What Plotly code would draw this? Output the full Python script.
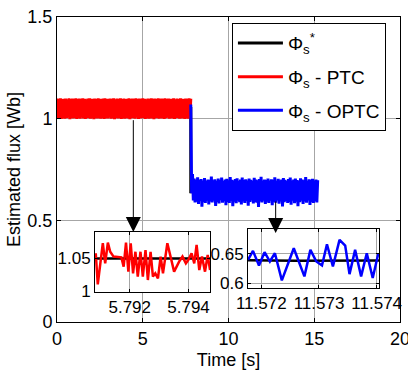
import plotly.graph_objects as go

# ---------------- data ----------------
ref_time = [0.0, 7.8, 7.8, 15.2]
ref_flux = [1.05, 1.05, 0.64, 0.64]

ptc_t0, ptc_dt = 0.0, 0.05
ptc_flux = [
 1.099, 1.001, 1.097, 1.003, 1.100, 0.999, 1.096, 1.004, 1.098, 1.000,
 1.099, 1.002, 1.095, 1.005, 1.100, 0.998, 1.097, 1.003, 1.099, 1.001,
 1.098, 1.004, 1.100, 0.999, 1.096, 1.002, 1.099, 1.000, 1.097, 1.005,
 1.100, 1.001, 1.098, 0.999, 1.095, 1.003, 1.099, 1.002, 1.100, 1.000,
 1.097, 1.004, 1.098, 0.998, 1.099, 1.003, 1.096, 1.001, 1.100, 1.002,
 1.098, 1.000, 1.097, 1.004, 1.099, 0.999, 1.100, 1.003, 1.096, 1.001,
 1.098, 1.005, 1.099, 1.000, 1.097, 1.002, 1.100, 0.998, 1.095, 1.004,
 1.099, 1.001, 1.098, 1.003, 1.100, 0.999, 1.097, 1.002, 1.099, 1.000,
 1.096, 1.004, 1.098, 1.001, 1.100, 0.998, 1.097, 1.003, 1.099, 1.002,
 1.098, 1.000, 1.100, 1.005, 1.096, 0.999, 1.099, 1.001, 1.097, 1.003,
 1.100, 1.002, 1.098, 0.999, 1.095, 1.004, 1.099, 1.000, 1.097, 1.001,
 1.100, 1.003, 1.098, 0.998, 1.099, 1.002, 1.096, 1.004, 1.100, 1.000,
 1.097, 1.001, 1.099, 1.003, 1.098, 0.999, 1.100, 1.002, 1.096, 1.005,
 1.099, 1.000, 1.097, 1.003, 1.098, 1.001, 1.100, 0.999, 1.095, 1.002,
 1.099, 1.004, 1.097, 1.000, 1.100, 1.001, 1.098, 1.003, 1.096, 0.999,
 1.099, 1.002, 1.097, 1.000, 1.100, 1.003, 1.098,
]

optc_t0, optc_dt = 7.8, 0.05
optc_flux = [
 1.070, 0.633, 0.728, 0.598, 0.705, 0.588, 0.699, 0.592, 0.712, 0.580,
 0.698, 0.595, 0.703, 0.567, 0.696, 0.590, 0.708, 0.585, 0.694, 0.597,
 0.701, 0.578, 0.699, 0.593, 0.715, 0.588, 0.697, 0.596, 0.702, 0.571,
 0.695, 0.590, 0.706, 0.583, 0.698, 0.599, 0.710, 0.587, 0.693, 0.594,
 0.700, 0.575, 0.704, 0.591, 0.697, 0.586, 0.713, 0.596, 0.699, 0.569,
 0.696, 0.592, 0.703, 0.584, 0.707, 0.597, 0.694, 0.589, 0.700, 0.578,
 0.711, 0.593, 0.698, 0.586, 0.702, 0.595, 0.696, 0.572, 0.705, 0.590,
 0.699, 0.598, 0.694, 0.583, 0.709, 0.591, 0.701, 0.587, 0.697, 0.566,
 0.703, 0.594, 0.714, 0.588, 0.695, 0.597, 0.700, 0.580, 0.698, 0.592,
 0.706, 0.585, 0.696, 0.596, 0.702, 0.574, 0.699, 0.590, 0.712, 0.587,
 0.694, 0.598, 0.704, 0.582, 0.697, 0.593, 0.701, 0.568, 0.708, 0.589,
 0.699, 0.595, 0.693, 0.586, 0.703, 0.591, 0.710, 0.577, 0.696, 0.597,
 0.700, 0.584, 0.705, 0.592, 0.698, 0.570, 0.695, 0.589, 0.707, 0.596,
 0.701, 0.581, 0.697, 0.593, 0.713, 0.587, 0.694, 0.598, 0.702, 0.576,
 0.699, 0.590, 0.704, 0.585, 0.696, 0.594, 0.700, 0.588, 0.698,
]

# zoom 1 (PTC, around t = 5.793 s)
z1_time = [5.790846, 5.790914, 5.791086, 5.791166, 5.791257, 5.791337, 5.791451,
           5.791623, 5.791714, 5.791794, 5.791874, 5.791954, 5.792034, 5.792114,
           5.792194, 5.792274, 5.792366, 5.792446, 5.792537, 5.792617, 5.792709,
           5.792789, 5.792869, 5.792960, 5.793051, 5.793131, 5.793280, 5.793394,
           5.793509, 5.793680, 5.793794, 5.793909, 5.793989, 5.794103, 5.794194,
           5.794274, 5.794366, 5.794457, 5.794560, 5.794651, 5.794731]
z1_flux = [1.0577, 1.0102, 1.0730, 1.0423, 1.0740, 1.0600, 1.0526,
           1.0515, 1.0515, 1.0372, 1.0740, 1.0296, 1.0730, 1.0270,
           1.0600, 1.0220, 1.0600, 1.0220, 1.0626, 1.0168, 1.0600,
           1.0220, 1.0270, 1.0194, 1.0526, 1.0270, 1.0730, 1.0515,
           1.0296, 1.0449, 1.0526, 1.0423, 1.0474, 1.0577, 1.0423,
           1.0704, 1.0321, 1.0526, 1.0296, 1.0551, 1.0321]
z1_ref_time = [5.79082, 5.79473]
z1_ref_flux = [1.0495, 1.0495]

# zoom 2 (OPTC, around t = 11.573 s)
z2_time = [11.571770, 11.571856, 11.571960, 11.572057, 11.572149, 11.572236,
           11.572356, 11.572563, 11.572747, 11.572851, 11.572954, 11.573052,
           11.573138, 11.573241, 11.573356, 11.573454, 11.573529, 11.573626,
           11.573730, 11.573828, 11.573931, 11.574029]
z2_flux = [0.6398, 0.6551, 0.6301, 0.6528, 0.6369, 0.6511,
           0.6045, 0.6597, 0.6114, 0.6568, 0.6369, 0.6301,
           0.6665, 0.6284, 0.6739, 0.6642, 0.6153, 0.6568,
           0.6114, 0.6511, 0.6085, 0.6511]
z2_ref_time = [11.57177, 11.57240, 11.57260, 11.57404]
z2_ref_flux = [0.6390, 0.6385, 0.6380, 0.6388]

# ---------------- figure ----------------
ptc_time = [ptc_t0 + ptc_dt * i for i in range(len(ptc_flux))]
optc_time = [optc_t0 + optc_dt * i for i in range(len(optc_flux))]

FONT = "Arial, 'Liberation Sans', sans-serif"
BLACK, RED, BLUE = "#000000", "#ff0000", "#0000ff"
GRID = "#a6a6a6"

fig = go.Figure()
fig.add_trace(go.Scatter(x=ref_time, y=ref_flux, mode="lines", line=dict(color=BLACK, width=3),
                         name="Φ<sub>s</sub><sup>*</sup>", legendgroup="a"))
fig.add_trace(go.Scatter(x=ptc_time, y=ptc_flux, mode="lines", line=dict(color=RED, width=3),
                         name="Φ<sub>s</sub> - PTC", legendgroup="b"))
fig.add_trace(go.Scatter(x=optc_time, y=optc_flux, mode="lines", line=dict(color=BLUE, width=3),
                         name="Φ<sub>s</sub> - OPTC", legendgroup="c"))

fig.add_trace(go.Scatter(x=z1_ref_time, y=z1_ref_flux, mode="lines", line=dict(color=BLACK, width=2.5),
                         xaxis="x2", yaxis="y2", showlegend=False))
fig.add_trace(go.Scatter(x=z1_time, y=z1_flux, mode="lines", line=dict(color=RED, width=2.5),
                         xaxis="x2", yaxis="y2", showlegend=False))
fig.add_trace(go.Scatter(x=z2_ref_time, y=z2_ref_flux, mode="lines", line=dict(color=BLACK, width=2.5),
                         xaxis="x3", yaxis="y3", showlegend=False))
fig.add_trace(go.Scatter(x=z2_time, y=z2_flux, mode="lines", line=dict(color=BLUE, width=2.5),
                         xaxis="x3", yaxis="y3", showlegend=False))

axis_common = dict(showline=True, linecolor=BLACK, linewidth=1, mirror="ticks",
                   ticks="inside", ticklen=4, tickcolor=BLACK, showgrid=True,
                   gridcolor=GRID, gridwidth=1, zeroline=False, automargin=False,
                   ticklabeloverflow="allow",
                   tickfont=dict(family=FONT, size=18, color=BLACK))
inset_common = dict(axis_common, ticklen=3, tickfont=dict(family=FONT, size=17, color=BLACK))

fig.update_layout(
    width=408, height=371,
    margin=dict(l=57, r=8, t=17, b=49),
    paper_bgcolor="white", plot_bgcolor="white",
    font=dict(family=FONT, size=18, color=BLACK),
    xaxis=dict(axis_common, domain=[0, 1], range=[0, 20], tickvals=[0, 5, 10, 15, 20],
               title=dict(text="Time [s]", standoff=5, font=dict(size=18))),
    yaxis=dict(axis_common, domain=[0, 1], range=[0, 1.5], tickvals=[0, 0.5, 1, 1.5],
               title=dict(text="Estimated flux [Wb]", standoff=2, font=dict(size=18))),
    xaxis2=dict(inset_common, domain=[0.1108, 0.4461], anchor="y2", range=[5.79082, 5.79473],
                tickvals=[5.792, 5.794], ticktext=["5.792", "5.794"]),
    yaxis2=dict(inset_common, domain=[0.0984, 0.2951], anchor="x2", range=[0.9985, 1.0902],
                tickvals=[1, 1.05], ticktext=["1", "1.05"]),
    xaxis3=dict(inset_common, domain=[0.5569, 0.9388], anchor="y3", range=[11.57177, 11.57404],
                tickvals=[11.572, 11.573, 11.574], ticktext=["11.572", "11.573", "11.574"]),
    yaxis3=dict(inset_common, domain=[0.1115, 0.3049], anchor="x3", range=[0.5915, 0.6926],
                tickvals=[0.6, 0.65], ticktext=["0.6", "0.65"]),
    legend=dict(x=0.510, y=0.980, xanchor="left", yanchor="top", bgcolor="white",
                bordercolor=BLACK, borderwidth=1, font=dict(family=FONT, size=19),
                tracegroupgap=6, itemwidth=45),
    showlegend=True,
)

fig.add_annotation(x=4.45, y=0.4425, ax=4.45, ay=1.0, xref="x", yref="y", axref="x", ayref="y",
                   text="", showarrow=True, arrowhead=2, arrowsize=3, arrowwidth=1,
                   arrowcolor=BLACK)
fig.add_annotation(x=12.75, y=0.4375, ax=12.75, ay=0.60, xref="x", yref="y", axref="x", ayref="y",
                   text="", showarrow=True, arrowhead=2, arrowsize=3, arrowwidth=1,
                   arrowcolor=BLACK)

fig.write_html("out.html", config={"displayModeBar": False},
               post_script="document.body.style.margin='0';")
